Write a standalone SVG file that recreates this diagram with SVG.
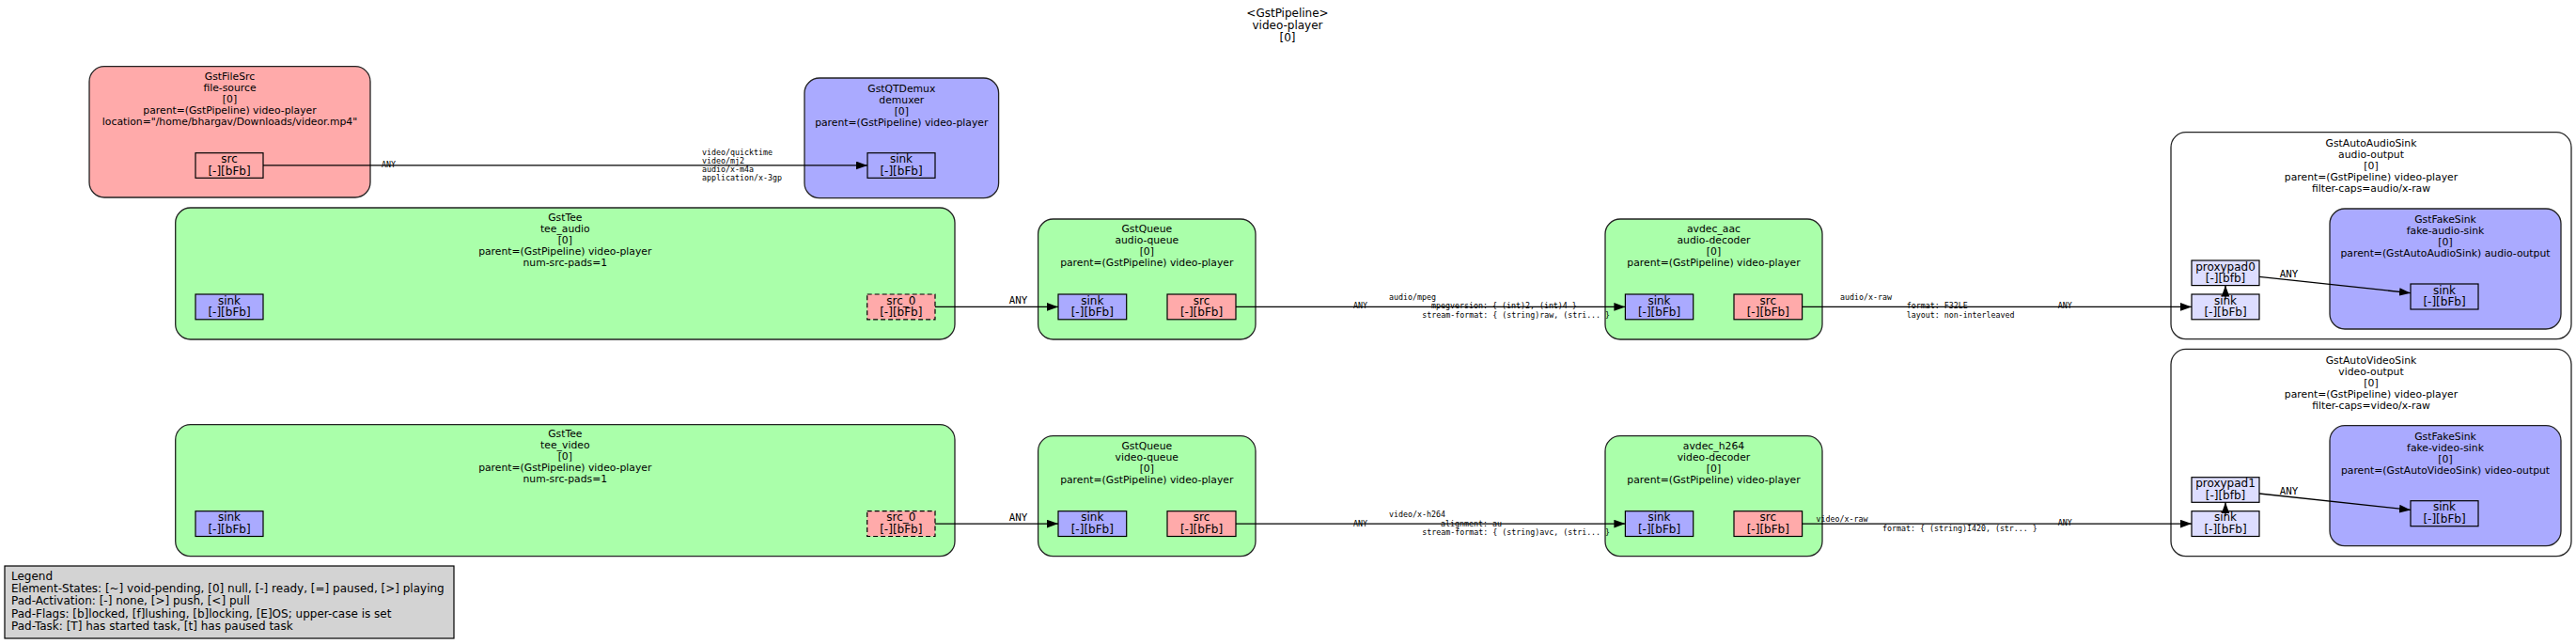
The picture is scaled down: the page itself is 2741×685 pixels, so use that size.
<svg xmlns="http://www.w3.org/2000/svg" width="2741" height="685" viewBox="0 0 2741 685">
<defs>
<marker id="arr" markerUnits="userSpaceOnUse" markerWidth="13" markerHeight="10" refX="12" refY="4.3" orient="auto"><path d="M0,0 L12,4.3 L0,8.6 z" fill="#000"/></marker>
<style>
.t{font-family:"DejaVu Sans",sans-serif;font-size:10.8px;text-anchor:middle;fill:#000}
.p{font-family:"DejaVu Sans",sans-serif;font-size:12px;text-anchor:middle;fill:#000}
.g{font-family:"DejaVu Sans",sans-serif;font-size:12px;fill:#000}
.m{font-family:"DejaVu Sans Mono",monospace;font-size:8.3px;fill:#000}
.mc{font-family:"DejaVu Sans Mono",monospace;font-size:8.3px;fill:#000;text-anchor:middle}
.e{font-family:"DejaVu Sans Mono",monospace;font-size:10.8px;text-anchor:middle;fill:#000}
.el{stroke:#222;stroke-width:1.3}
.src{fill:#ffaaaa}.snk{fill:#aaaaff}.flt{fill:#aaffaa}.bin{fill:#ffffff}.gh{fill:#ddddff}
.pad{stroke:#000;stroke-width:1.2}
.req{stroke-dasharray:5,3}
.c{fill:none;stroke:#000;stroke-width:1.3;marker-end:url(#arr)}
</style>
</defs>
<rect width="2741" height="685" fill="#ffffff"/>

<g id="title">
<text class="p" x="1370" y="18">&lt;GstPipeline&gt;</text>
<text class="p" x="1370" y="31">video-player</text>
<text class="p" x="1370" y="44">[0]</text>
</g>

<g id="file-source">
<rect class="el src" x="95" y="70.7" width="299" height="139.3" rx="16"/>
<text class="t" x="244.5" y="84.8">GstFileSrc</text>
<text class="t" x="244.5" y="96.8">file-source</text>
<text class="t" x="244.5" y="108.8">[0]</text>
<text class="t" x="244.5" y="120.8">parent=(GstPipeline) video-player</text>
<text class="t" x="244.5" y="132.8">location="/home/bhargav/Downloads/videor.mp4"</text>
<rect class="pad src" x="208" y="162.7" width="72" height="26.6"/>
<text class="p" x="244" y="173.2">src</text>
<text class="p" x="244" y="185.9">[-][bFb]</text>
</g>

<g id="demuxer">
<rect class="el snk" x="856" y="83" width="206.6" height="127.7" rx="16"/>
<text class="t" x="959.3" y="97.5">GstQTDemux</text>
<text class="t" x="959.3" y="109.5">demuxer</text>
<text class="t" x="959.3" y="121.5">[0]</text>
<text class="t" x="959.3" y="133.5">parent=(GstPipeline) video-player</text>
<rect class="pad snk" x="923" y="162.7" width="72" height="26.6"/>
<text class="p" x="959" y="173.2">sink</text>
<text class="p" x="959" y="185.9">[-][bFb]</text>
</g>

<g id="tee_audio">
<rect class="el flt" x="186.7" y="221" width="829.3" height="140" rx="16"/>
<text class="t" x="601.3" y="234.5">GstTee</text>
<text class="t" x="601.3" y="246.5">tee_audio</text>
<text class="t" x="601.3" y="258.5">[0]</text>
<text class="t" x="601.3" y="270.5">parent=(GstPipeline) video-player</text>
<text class="t" x="601.3" y="282.5">num-src-pads=1</text>
<rect class="pad snk" x="208" y="313" width="72" height="26.8"/>
<text class="p" x="244" y="323.5">sink</text>
<text class="p" x="244" y="336.2">[-][bFb]</text>
<rect class="pad src req" x="922.7" y="313" width="72.3" height="26.8"/>
<text class="p" x="958.8" y="323.5">src_0</text>
<text class="p" x="958.8" y="336.2">[-][bFb]</text>
</g>

<g id="audio-queue">
<rect class="el flt" x="1104.6" y="233" width="231.4" height="128" rx="16"/>
<text class="t" x="1220.3" y="246.8">GstQueue</text>
<text class="t" x="1220.3" y="258.8">audio-queue</text>
<text class="t" x="1220.3" y="270.8">[0]</text>
<text class="t" x="1220.3" y="282.8">parent=(GstPipeline) video-player</text>
<rect class="pad snk" x="1126" y="313" width="72.7" height="26.8"/>
<text class="p" x="1162.3" y="323.5">sink</text>
<text class="p" x="1162.3" y="336.2">[-][bFb]</text>
<rect class="pad src" x="1242" y="313" width="73" height="26.8"/>
<text class="p" x="1278.5" y="323.5">src</text>
<text class="p" x="1278.5" y="336.2">[-][bFb]</text>
</g>

<g id="audio-decoder">
<rect class="el flt" x="1708" y="233" width="231" height="128" rx="16"/>
<text class="t" x="1823.5" y="246.8">avdec_aac</text>
<text class="t" x="1823.5" y="258.8">audio-decoder</text>
<text class="t" x="1823.5" y="270.8">[0]</text>
<text class="t" x="1823.5" y="282.8">parent=(GstPipeline) video-player</text>
<rect class="pad snk" x="1729.4" y="313" width="72.3" height="26.8"/>
<text class="p" x="1765.5" y="323.5">sink</text>
<text class="p" x="1765.5" y="336.2">[-][bFb]</text>
<rect class="pad src" x="1845" y="313" width="72.6" height="26.8"/>
<text class="p" x="1881.3" y="323.5">src</text>
<text class="p" x="1881.3" y="336.2">[-][bFb]</text>
</g>

<g id="audio-output">
<rect class="el bin" x="2310" y="140.7" width="426" height="220" rx="16"/>
<text class="t" x="2523" y="155.8">GstAutoAudioSink</text>
<text class="t" x="2523" y="167.8">audio-output</text>
<text class="t" x="2523" y="179.8">[0]</text>
<text class="t" x="2523" y="191.8">parent=(GstPipeline) video-player</text>
<text class="t" x="2523" y="203.8">filter-caps=audio/x-raw</text>
<rect class="pad gh" x="2332" y="277" width="72" height="26.6"/>
<text class="p" x="2368" y="287.5">proxypad0</text>
<text class="p" x="2368" y="300.2">[-][bfb]</text>
<rect class="pad gh" x="2332" y="313" width="72" height="26.8"/>
<text class="p" x="2368" y="323.5">sink</text>
<text class="p" x="2368" y="336.2">[-][bFb]</text>
<g id="fake-audio-sink">
<rect class="el snk" x="2479" y="222" width="246" height="128" rx="16"/>
<text class="t" x="2602" y="236.8">GstFakeSink</text>
<text class="t" x="2602" y="248.8">fake-audio-sink</text>
<text class="t" x="2602" y="260.8">[0]</text>
<text class="t" x="2602" y="272.8">parent=(GstAutoAudioSink) audio-output</text>
<rect class="pad snk" x="2565" y="302" width="72" height="27"/>
<text class="p" x="2601" y="312.5">sink</text>
<text class="p" x="2601" y="325.2">[-][bFb]</text>
</g>
</g>

<g id="tee_video">
<rect class="el flt" x="186.7" y="451.7" width="829.3" height="140" rx="16"/>
<text class="t" x="601.3" y="465.2">GstTee</text>
<text class="t" x="601.3" y="477.2">tee_video</text>
<text class="t" x="601.3" y="489.2">[0]</text>
<text class="t" x="601.3" y="501.2">parent=(GstPipeline) video-player</text>
<text class="t" x="601.3" y="513.2">num-src-pads=1</text>
<rect class="pad snk" x="208" y="543.7" width="72" height="26.8"/>
<text class="p" x="244" y="554.2">sink</text>
<text class="p" x="244" y="566.9">[-][bFb]</text>
<rect class="pad src req" x="922.7" y="543.7" width="72.3" height="26.8"/>
<text class="p" x="958.8" y="554.2">src_0</text>
<text class="p" x="958.8" y="566.9">[-][bFb]</text>
</g>

<g id="video-queue">
<rect class="el flt" x="1104.6" y="463.7" width="231.4" height="128" rx="16"/>
<text class="t" x="1220.3" y="477.5">GstQueue</text>
<text class="t" x="1220.3" y="489.5">video-queue</text>
<text class="t" x="1220.3" y="501.5">[0]</text>
<text class="t" x="1220.3" y="513.5">parent=(GstPipeline) video-player</text>
<rect class="pad snk" x="1126" y="543.7" width="72.7" height="26.8"/>
<text class="p" x="1162.3" y="554.2">sink</text>
<text class="p" x="1162.3" y="566.9">[-][bFb]</text>
<rect class="pad src" x="1242" y="543.7" width="73" height="26.8"/>
<text class="p" x="1278.5" y="554.2">src</text>
<text class="p" x="1278.5" y="566.9">[-][bFb]</text>
</g>

<g id="video-decoder">
<rect class="el flt" x="1708" y="463.7" width="231" height="128" rx="16"/>
<text class="t" x="1823.5" y="477.5">avdec_h264</text>
<text class="t" x="1823.5" y="489.5">video-decoder</text>
<text class="t" x="1823.5" y="501.5">[0]</text>
<text class="t" x="1823.5" y="513.5">parent=(GstPipeline) video-player</text>
<rect class="pad snk" x="1729.4" y="543.7" width="72.3" height="26.8"/>
<text class="p" x="1765.5" y="554.2">sink</text>
<text class="p" x="1765.5" y="566.9">[-][bFb]</text>
<rect class="pad src" x="1845" y="543.7" width="72.6" height="26.8"/>
<text class="p" x="1881.3" y="554.2">src</text>
<text class="p" x="1881.3" y="566.9">[-][bFb]</text>
</g>

<g id="video-output">
<rect class="el bin" x="2310" y="371.4" width="426" height="220.3" rx="16"/>
<text class="t" x="2523" y="386.5">GstAutoVideoSink</text>
<text class="t" x="2523" y="398.5">video-output</text>
<text class="t" x="2523" y="410.5">[0]</text>
<text class="t" x="2523" y="422.5">parent=(GstPipeline) video-player</text>
<text class="t" x="2523" y="434.5">filter-caps=video/x-raw</text>
<rect class="pad gh" x="2332" y="507.7" width="72" height="26.6"/>
<text class="p" x="2368" y="518.2">proxypad1</text>
<text class="p" x="2368" y="530.9">[-][bfb]</text>
<rect class="pad gh" x="2332" y="543.7" width="72" height="26.8"/>
<text class="p" x="2368" y="554.2">sink</text>
<text class="p" x="2368" y="566.9">[-][bFb]</text>
<g id="fake-video-sink">
<rect class="el snk" x="2479" y="452.7" width="246" height="128" rx="16"/>
<text class="t" x="2602" y="467.5">GstFakeSink</text>
<text class="t" x="2602" y="479.5">fake-video-sink</text>
<text class="t" x="2602" y="491.5">[0]</text>
<text class="t" x="2602" y="503.5">parent=(GstAutoVideoSink) video-output</text>
<rect class="pad snk" x="2565" y="532.7" width="72" height="27"/>
<text class="p" x="2601" y="543.2">sink</text>
<text class="p" x="2601" y="555.9">[-][bFb]</text>
</g>
</g>

<g id="legend">
<rect x="5" y="602" width="478" height="77" fill="#d3d3d3" stroke="#000" stroke-width="1.2"/>
<text class="g" x="12" y="617.2">Legend</text>
<text class="g" x="12" y="630.3">Element-States: [~] void-pending, [0] null, [-] ready, [=] paused, [&gt;] playing</text>
<text class="g" x="12" y="643.4">Pad-Activation: [-] none, [&gt;] push, [&lt;] pull</text>
<text class="g" x="12" y="656.5">Pad-Flags: [b]locked, [f]lushing, [b]locking, [E]OS; upper-case is set</text>
<text class="g" x="12" y="669.6">Pad-Task: [T] has started task, [t] has paused task</text>
</g>

<g id="connectors">
<path class="c" d="M280,175.9 L923,175.9"/>
<text class="mc" x="413.5" y="177.9">ANY</text>
<text class="m" x="747" y="164.6">video/quicktime</text>
<text class="m" x="747" y="173.8">video/mj2</text>
<text class="m" x="747" y="183">audio/x-m4a</text>
<text class="m" x="747" y="192.2">application/x-3gp</text>

<path class="c" d="M995,326.4 L1126,326.4"/>
<text class="e" x="1083.5" y="323">ANY</text>
<path class="c" d="M1315,326.4 L1729.4,326.4"/>
<text class="mc" x="1447.5" y="328">ANY</text>
<text class="m" x="1478" y="319">audio/mpeg</text>
<text class="m" x="1523" y="328">mpegversion: { (int)2, (int)4 }</text>
<text class="m" x="1513.3" y="338">stream-format: { (string)raw, (stri... }</text>
<path class="c" d="M1917.6,326.4 L2332,326.4"/>
<text class="m" x="1958" y="319">audio/x-raw</text>
<text class="m" x="2028.7" y="328">format: F32LE</text>
<text class="m" x="2028.7" y="338">layout: non-interleaved</text>
<text class="mc" x="2197.3" y="328">ANY</text>
<path class="c" d="M2368,318 L2368,303.6"/>
<path class="c" d="M2404,294.3 L2565,311.7"/>
<text class="e" x="2435.5" y="295">ANY</text>

<path class="c" d="M995,557.1 L1126,557.1"/>
<text class="e" x="1083.5" y="553.8">ANY</text>
<path class="c" d="M1315,557.1 L1729.4,557.1"/>
<text class="mc" x="1447.5" y="559.6">ANY</text>
<text class="m" x="1478" y="550">video/x-h264</text>
<text class="m" x="1533" y="559.6">alignment: au</text>
<text class="m" x="1513.3" y="568.6">stream-format: { (string)avc, (stri... }</text>
<path class="c" d="M1917.6,557.1 L2332,557.1"/>
<text class="m" x="1932.6" y="554.6">video/x-raw</text>
<text class="m" x="2003" y="564.6">format: { (string)I420, (str... }</text>
<text class="mc" x="2197.3" y="559">ANY</text>
<path class="c" d="M2368,548.7 L2368,534.3"/>
<path class="c" d="M2404,525 L2565,542.4"/>
<text class="e" x="2435.5" y="525.7">ANY</text>
</g>
</svg>
